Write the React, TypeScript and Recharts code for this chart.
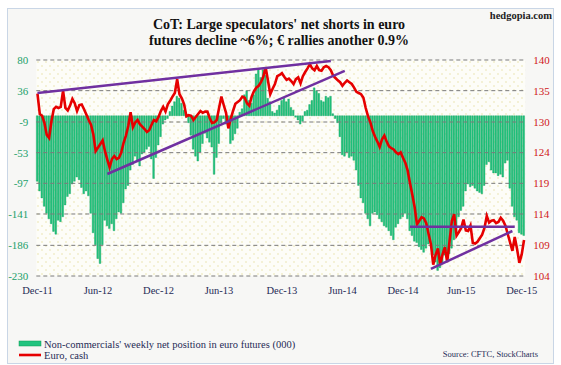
import React from "react";
import { ComposedChart, Bar, Line, XAxis, YAxis, CartesianGrid, ReferenceLine } from "recharts";

// Weekly net position of non-commercials in euro futures (000 contracts), Dec-11 .. Dec-15
const netPosition: number[] = [
  -94, -108, -118, -130, -140, -148, -155, -166, -170, -150,
  -152, -145, -128, -116, -112, -98, -94, -88, -92, -103,
  -112, -108, -115, -140, -168, -185, -205, -212, -185, -150,
  -158, -162, -155, -165, -148, -138, -140, -125, -105, -100,
  -78, -70, -58, -64, -72, -55, -52, -48, -44, -62,
  -90, -60, -42, -30, -12, -6, -4, 6, 14, 20,
  28, 25, 18, 8, -2, -10, -28, -48, -58, -65,
  -52, -40, -25, -32, -38, -45, -84, -60, -40, -10,
  -4, -12, -14, -40, -35, -26, -18, 5, 10, 30,
  36, 22, 18, 30, 60, 67, 55, 66, 58, 25,
  20, 6, 4, 8, 15, 22, 26, 20, 24, 12,
  8, -2, -6, -12, -8, 6, 8, 16, 22, 40,
  36, 32, 22, 20, 28, 26, 28, 3, -4, -10,
  -30, -56, -58, -52, -60, -58, -64, -78, -100, -118,
  -125, -140, -148, -158, -140, -138, -142, -148, -152, -158,
  -160, -165, -172, -178, -160, -155, -148, -145, -140, -148,
  -165, -172, -180, -182, -188, -192, -196, -190, -184, -182,
  -200, -210, -222, -218, -212, -200, -195, -198, -190, -178,
  -168, -145, -136, -130, -108, -98, -102, -100, -104, -108,
  -110, -112, -100, -70, -66, -78, -82, -82, -86, -84,
  -88, -68, -64, -104, -130, -145, -150, -168, -170, -172,
];

// Euro, cash (x100)
const euroCash: number[] = [
  134.4, 131.0, 130.7, 129.5, 127.5, 127.0, 129.8, 131.8, 132.2, 132.0,
  132.2, 134.9, 132.0, 131.6, 132.4, 133.5, 132.8, 131.5, 132.5, 132.6,
  131.8, 130.9, 130.0, 129.2, 127.6, 124.8, 125.4, 126.0, 126.6, 124.8,
  123.4, 122.1, 123.5, 124.0, 123.5, 123.7, 124.6, 126.2, 127.4, 129.0,
  131.3, 128.8, 129.6, 130.0, 129.3, 128.9, 128.5, 128.0, 128.3, 129.2,
  130.0, 129.8, 130.5, 131.5, 132.2, 131.4, 132.6, 133.2, 133.9, 134.5,
  136.8, 134.3, 133.6, 132.6, 130.6, 130.8, 130.7, 130.0, 130.5, 131.0,
  131.5, 131.2, 131.4, 131.4, 130.3, 129.5, 129.6, 130.0, 132.0, 133.9,
  132.5, 131.2, 128.6, 130.2, 131.5, 132.7, 133.0, 133.3, 133.9, 133.7,
  132.8, 132.4, 133.9, 134.8, 135.4, 135.7, 136.3, 137.2, 138.8, 136.6,
  134.3, 135.2, 136.0, 137.3, 137.5, 137.8, 137.2, 136.7, 136.9, 136.5,
  136.0, 136.8, 137.1, 136.1, 137.3, 138.0, 138.6, 139.3, 138.6, 138.3,
  139.0, 138.3, 138.2, 138.8, 139.0, 138.8, 138.3, 137.4, 137.0, 136.6,
  136.3, 135.7, 136.2, 136.6, 136.3, 136.0, 135.4, 134.7, 134.5, 134.3,
  133.7, 132.0, 130.6, 129.6, 128.2, 127.2, 126.4, 125.5, 126.8, 127.4,
  126.4, 125.6, 125.3, 125.1, 124.6, 124.3, 124.6, 123.7, 122.9, 121.6,
  119.5, 117.6, 115.5, 112.6, 113.2, 113.8, 113.6, 112.8, 111.0, 109.3,
  105.9, 107.5, 108.6, 105.9, 107.6, 108.8, 106.3, 109.8, 113.2, 114.3,
  110.7, 111.3, 112.0, 113.4, 111.6, 111.5, 112.4, 109.5, 109.4, 109.7,
  110.3, 110.9, 112.0, 114.0, 112.9, 113.2, 113.3, 112.8, 113.0, 113.7,
  113.2, 112.4, 111.0, 109.6, 108.2, 110.5, 108.5, 106.2, 107.6, 110.0,
];

const xTickIndex: number[] = [0, 26, 52, 78, 105, 131, 157, 182, 208];
const xTickLabels: string[] = ["Dec-11", "Jun-12", "Dec-12", "Jun-13", "Dec-13", "Jun-14", "Dec-14", "Jun-15", "Dec-15"];

const leftTicks: number[] = [80, 36, -9, -53, -97, -141, -186, -230];
const rightLabels: string[] = ["140", "135", "130", "124", "119", "114", "109", "104"];
const rightDomain: [number, number] = [104, 140];

// Trend lines: [startIndex, startEuro, endIndex, endEuro]
const trendLines: [number, number, number, number][] = [
  [0, 134.5, 126, 139.85],
  [30, 121.0, 132, 138.2],
  [160, 112.2, 205, 112.2],
  [169, 105.2, 204, 111.5],
];

const data = netPosition.map((v, i) => ({ i, net: v, euro: euroCash[i] }));

const rightTicks = rightLabels.map((_, k) => rightDomain[1] - (k * (rightDomain[1] - rightDomain[0])) / (rightLabels.length - 1));

const FONT = "'Liberation Serif', 'Times New Roman', serif";

export default function App() {
  return (
    <div style={{ position: "absolute", left: 0, top: 0, width: 561, height: 365, background: "#ffffff", overflow: "hidden" }}>
      <div
        style={{
          position: "absolute",
          left: 7,
          top: 8,
          width: 545,
          height: 354,
          border: "1px solid #c9d6e6",
          background: "#f7f7f5",
        }}
      />
      <div style={{ position: "absolute", left: 0, top: 0 }}>
        <ComposedChart
          width={561}
          height={365}
          data={data}
          margin={{ top: 60, bottom: 59, left: 8.3, right: 7.8 }}
          barCategoryGap={0}
        >
          <defs>
            <pattern id="dots" width="8" height="8" patternUnits="userSpaceOnUse">
              <rect width="8" height="8" fill="#fdfdf8" />
              <circle cx="2" cy="2" r="0.7" fill="#e4dd9c" />
              <circle cx="6" cy="6" r="0.7" fill="#e4dd9c" />
            </pattern>
          </defs>
          <CartesianGrid yAxisId="left" horizontal={false} vertical={false} fill="url(#dots)" />
          <XAxis
            dataKey="i"
            type="category"
            ticks={xTickIndex}
            interval={0}
            axisLine={false}
            tickLine={false}
            tickMargin={5}
            tickFormatter={(v: number) => xTickLabels[xTickIndex.indexOf(v)] ?? ""}
            tick={{ fill: "#1f2b55", fontSize: 10.5, fontFamily: FONT }}
          />
          <YAxis
            yAxisId="left"
            orientation="left"
            width={28}
            domain={[-230, 80]}
            ticks={leftTicks}
            interval={0}
            allowDataOverflow
            axisLine={false}
            tickLine={false}
            tick={{ fill: "#22a06a", fontSize: 11, fontFamily: FONT }}
          />
          <YAxis
            yAxisId="right"
            orientation="right"
            width={28}
            domain={rightDomain}
            ticks={rightTicks}
            interval={0}
            allowDataOverflow
            axisLine={false}
            tickLine={false}
            tickFormatter={(v: number) => {
              const k = rightTicks.findIndex((t) => Math.abs(t - v) < 0.01);
              return k >= 0 ? rightLabels[k] : "";
            }}
            tick={{ fill: "#d01818", fontSize: 11, fontFamily: FONT }}
          />
          <Bar
            yAxisId="left"
            dataKey="net"
            barSize={1.7}
            fill="#22c47f"
            stroke="#0d9a55"
            strokeWidth={0.35}
            isAnimationActive={false}
          />
          {leftTicks.map((t) => (
            <ReferenceLine key={"g" + t} yAxisId="left" y={t} stroke="#7a7a7a" strokeDasharray="4 3" strokeWidth={1} />
          ))}
          <Line
            yAxisId="right"
            dataKey="euro"
            type="linear"
            stroke="#e60000"
            strokeWidth={2.6}
            dot={false}
            isAnimationActive={false}
          />
          {trendLines.map((s, k) => (
            <ReferenceLine
              key={"t" + k}
              yAxisId="right"
              segment={[
                { x: s[0], y: s[1] },
                { x: s[2], y: s[3] },
              ]}
              stroke="#7030a0"
              strokeWidth={2.5}
              ifOverflow="visible"
            />
          ))}
        </ComposedChart>
      </div>
      <svg width={561} height={365} style={{ position: "absolute", left: 0, top: 0, pointerEvents: "none" }}>
        <text x={279} y={29} textAnchor="middle" fontFamily={FONT} fontWeight="bold" fontSize={14} fill="#111">
          CoT: Large speculators' net shorts in euro
        </text>
        <text x={279} y={45} textAnchor="middle" fontFamily={FONT} fontWeight="bold" fontSize={14} fill="#111">
          futures decline ~6%; € rallies another 0.9%
        </text>
        <text x={552} y={19} textAnchor="end" fontFamily={FONT} fontWeight="bold" fontSize={10.5} fill="#222">
          hedgopia.com
        </text>
        <rect x={19} y={341} width={22} height={5} fill="#22c47f" stroke="#0d9a55" strokeWidth={0.5} />
        <text x={44} y={347.5} fontFamily={FONT} fontSize={10.5} fill="#1f2b55">
          Non-commercials' weekly net position in euro futures (000)
        </text>
        <line x1={19} y1={355} x2={41} y2={355} stroke="#e60000" strokeWidth={2.6} />
        <text x={44} y={359} fontFamily={FONT} fontSize={10.5} fill="#1f2b55">
          Euro, cash
        </text>
        <text x={538} y={357} textAnchor="end" fontFamily={FONT} fontSize={8.5} fill="#1f2b55">
          Source: CFTC, StockCharts
        </text>
      </svg>
    </div>
  );
}
